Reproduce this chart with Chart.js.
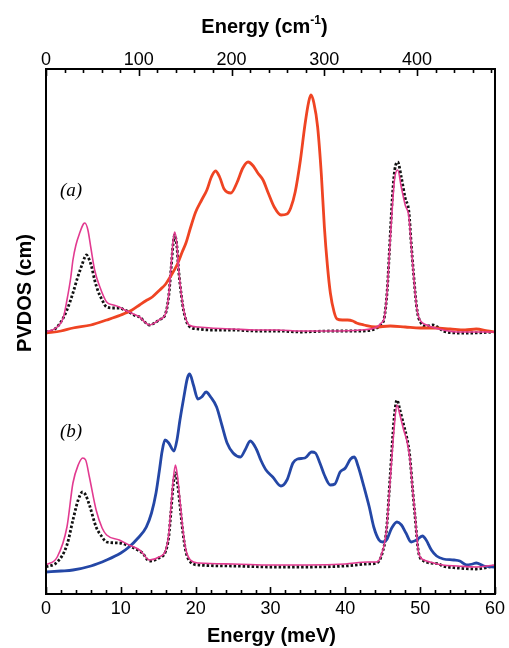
<!DOCTYPE html>
<html>
<head>
<meta charset="utf-8">
<script src="https://cdn.jsdelivr.net/npm/chart.js@4"></script>
<style>
  html, body { margin: 0; padding: 0; background: #fff; }
  #wrap { width: 509px; height: 648px; }
</style>
</head>
<body>
<div id="wrap"><canvas id="c" width="509" height="648"></canvas></div>
<script>
// Energy conversion for the upper axis
const MEV_TO_CM = 8.0655;

// Vertical offsets of the two stacked spectra
const OFFSET_A = 52;
const OFFSET_B = 4;

// ---- (a) broad total PVDOS (red) ----
const aBroadE = [0, 2, 3.6, 6, 8.1, 10, 11.5, 12.5, 13.3, 14.2, 15.2, 16, 16.6, 17.5, 18.2, 18.7, 19.3, 20, 20.8, 21.5, 22.1, 22.65, 23.2, 23.8, 24.7, 25.5, 26.3, 27, 27.7, 28.3, 29, 29.7, 30.5, 31.4, 32.2, 32.7, 33.3, 34, 34.6, 35.1, 35.4, 35.8, 36.3, 36.8, 37.2, 37.6, 38, 38.5, 38.9, 39.6, 40.3, 41, 41.5, 42.5, 44, 46, 48, 50, 52, 54, 56, 57.5, 59, 60];
const aBroadY = [0.2, 0.6, 1.2, 1.8, 2.8, 3.8, 4.8, 5.8, 6.6, 7.4, 8.8, 10.0, 11.4, 13.8, 16.4, 18.2, 21.2, 24.4, 26.8, 28.8, 31.4, 32.6, 31.4, 29.0, 28.2, 30.2, 33.2, 34.4, 33.6, 32.2, 30.8, 28.2, 25.4, 23.8, 24.0, 25.2, 28.4, 34.8, 41.8, 46.4, 47.8, 46.2, 41.4, 31.8, 21.4, 13.8, 8.2, 4.4, 3.0, 2.8, 2.8, 2.6, 2.2, 1.8, 1.4, 1.6, 1.4, 1.2, 1.2, 1.0, 0.8, 1.0, 0.6, 0.4];

// ---- (a) partial PVDOS (magenta) ----
const aPeakE = [0, 1.5, 2.3, 2.8, 3.3, 3.6, 4.0, 4.5, 5.0, 5.2, 5.6, 6.0, 6.5, 7.2, 8.1, 9.0, 9.8, 10.5, 11.1, 12.0, 12.5, 13.2, 13.8, 14.5, 15.1, 16.0, 16.4, 16.7, 17.0, 17.2, 17.5, 17.7, 18.1, 18.4, 19.1, 20.4, 22, 25, 28, 31, 34, 38, 42, 44.2, 44.8, 45.2, 45.6, 46.0, 46.3, 46.6, 47.0, 47.5, 48.0, 48.5, 48.8, 49.1, 49.5, 49.8, 50.9, 52, 53.1, 55.2, 57, 60];
const aPeakY = [0.4, 1.4, 3.2, 6.8, 11.2, 14.8, 17.8, 20.2, 22.0, 22.2, 20.8, 17.2, 12.8, 9.4, 6.4, 5.8, 5.4, 4.8, 4.4, 3.8, 3.4, 2.4, 1.8, 2.2, 2.8, 4.2, 7.8, 13.4, 18.8, 20.4, 17.8, 13.4, 7.8, 4.8, 1.8, 1.4, 1.2, 1.0, 0.8, 0.8, 0.6, 0.6, 0.8, 1.4, 2.2, 3.2, 8.8, 18.8, 25.8, 31.2, 32.8, 29.2, 25.8, 23.4, 17.8, 12.2, 5.8, 3.4, 1.8, 1.2, 0.8, 0.4, 0.4, 0.4];

// ---- (a) measured PVDOS (black dots) ----
const aDotE = [0, 1.0, 1.9, 2.8, 3.6, 4.2, 4.8, 5.2, 5.4, 5.8, 6.1, 6.5, 6.9, 7.5, 8.1, 9.0, 9.8, 10.5, 11.1, 12.0, 12.5, 13.2, 13.8, 14.5, 15.1, 16.0, 16.4, 16.7, 17.0, 17.2, 17.5, 17.7, 18.1, 18.4, 19.1, 20.4, 22, 25, 28, 31, 34, 38, 42, 44.2, 44.8, 45.2, 45.6, 46.0, 46.3, 46.6, 47.0, 47.5, 48.0, 48.5, 48.8, 49.1, 49.5, 49.8, 50.9, 51.7, 52.5, 53.1, 55.2, 57, 59.7];
const aDotY = [0.4, 0.8, 2.2, 4.8, 8.2, 11.2, 13.8, 15.4, 15.8, 14.8, 13.4, 10.8, 8.8, 6.8, 5.4, 5.2, 5.2, 4.8, 4.4, 3.6, 3.4, 2.4, 1.8, 2.2, 2.8, 4.2, 7.6, 12.8, 18.2, 19.8, 17.4, 13.2, 7.6, 4.6, 1.6, 1.0, 0.8, 0.8, 0.6, 0.6, 0.4, 0.6, 0.6, 1.2, 2.0, 3.2, 8.8, 19.8, 27.8, 32.8, 34.4, 31.2, 27.2, 24.4, 18.2, 12.4, 5.8, 3.2, 1.6, 1.8, 1.2, 0.6, 0.2, 0.2, 0.4];

// ---- (b) broad total PVDOS (blue) ----
const bBroadE = [0, 2, 3.6, 6, 8.1, 10, 11.1, 12.3, 13.4, 14.1, 14.7, 15.2, 15.5, 15.9, 16.4, 17.1, 17.5, 17.9, 18.4, 18.9, 19.2, 19.7, 20.3, 20.8, 21.4, 22.0, 22.8, 23.5, 24.2, 25.0, 26.0, 26.6, 27.3, 28.1, 28.7, 29.4, 30.3, 31.4, 32.2, 33.0, 33.6, 34.6, 35.5, 36.0, 36.6, 37.2, 38.0, 38.6, 39.3, 40.0, 40.7, 41.2, 41.7, 42.5, 43.2, 43.8, 44.5, 45.0, 45.5, 46.2, 46.9, 47.5, 48.1, 48.8, 49.5, 50.3, 50.8, 51.5, 52.2, 53.1, 54.5, 55.3, 56.2, 57.0, 57.5, 58.5, 60];
const bBroadY = [0.4, 0.6, 0.8, 1.6, 2.8, 4.2, 5.4, 7.2, 9.4, 12.2, 16.2, 21.2, 24.4, 26.8, 26.2, 24.6, 26.8, 30.8, 35.2, 39.2, 40.0, 37.8, 35.0, 35.4, 36.4, 35.4, 33.4, 29.8, 26.2, 24.2, 23.4, 24.8, 26.6, 25.0, 22.8, 20.8, 19.4, 17.6, 18.8, 22.2, 23.0, 23.2, 24.4, 24.2, 22.2, 19.8, 17.8, 18.0, 20.4, 21.2, 23.0, 23.4, 21.6, 17.4, 13.4, 9.4, 6.8, 6.4, 6.8, 9.2, 10.4, 9.8, 8.2, 6.4, 6.8, 7.6, 6.8, 4.8, 3.6, 3.0, 2.8, 2.6, 1.8, 2.0, 2.2, 1.6, 1.4];

// ---- (b) partial PVDOS (magenta) ----
const bPeakE = [0, 1.5, 2.8, 3.6, 4.3, 4.9, 5.3, 5.8, 6.7, 7.5, 8.1, 9.8, 11.1, 12.5, 12.9, 13.8, 15.1, 16.0, 16.4, 16.7, 17.0, 17.3, 17.6, 17.9, 18.3, 18.7, 19.3, 20.4, 25, 30, 35, 40, 43, 44.2, 44.9, 45.5, 46.0, 46.5, 46.9, 47.3, 47.8, 48.2, 48.6, 49.0, 49.3, 49.8, 50.5, 51.3, 53, 55, 57.5, 60];
const bPeakY = [1.8, 3.4, 9.4, 18.2, 21.8, 23.2, 22.8, 19.4, 12.8, 9.2, 7.8, 6.8, 5.8, 4.8, 4.2, 2.8, 3.4, 4.8, 7.8, 13.4, 18.8, 21.8, 19.2, 14.8, 8.8, 4.8, 2.8, 2.2, 2.0, 1.8, 1.8, 2.0, 2.4, 2.4, 4.2, 8.8, 18.8, 28.8, 33.8, 31.8, 28.8, 26.8, 23.4, 16.8, 12.2, 4.2, 2.8, 2.4, 1.8, 1.6, 1.4, 1.8];

// ---- (b) measured PVDOS (black dots) ----
const bDotE = [0, 1.5, 2.8, 3.6, 4.3, 4.9, 5.3, 5.8, 6.7, 7.5, 8.1, 9.8, 11.1, 12.5, 12.9, 13.8, 15.1, 16.0, 16.4, 16.7, 17.0, 17.3, 17.6, 17.9, 18.3, 18.7, 19.3, 20.4, 25, 30, 35, 40, 43, 44.2, 44.9, 45.5, 46.0, 46.5, 46.9, 47.3, 47.8, 48.2, 48.6, 49.0, 49.3, 49.8, 50.5, 51.3, 52.5, 53, 55, 57.5, 59.8];
const bDotY = [1.4, 2.4, 5.8, 10.8, 14.8, 16.4, 15.8, 13.8, 9.4, 7.4, 6.4, 6.2, 5.6, 4.6, 4.2, 2.6, 3.2, 4.6, 7.4, 12.4, 17.8, 20.2, 17.8, 13.8, 8.2, 4.4, 2.4, 1.8, 1.6, 1.4, 1.4, 1.6, 2.0, 2.2, 4.0, 8.8, 19.8, 30.8, 34.8, 32.8, 29.8, 27.4, 23.8, 16.8, 11.8, 4.2, 2.6, 2.2, 2.0, 1.6, 1.2, 1.0, 1.6];

// Tick values
const meVTicks = [0, 10, 20, 30, 40, 50, 60];
const cmTicks = [0, 100, 200, 300, 400];

const FONT = "'Liberation Sans', Arial, Helvetica, sans-serif";

function series(E, Y, offset) {
  return E.map((e, i) => ({ x: e, y: Y[i] + offset }));
}

function line(data, color, width, order, dash) {
  return {
    data: data,
    borderColor: color,
    borderWidth: width,
    borderDash: dash || [],
    pointRadius: 0,
    fill: false,
    cubicInterpolationMode: 'monotone',
    order: order,
    xAxisID: 'x',
    yAxisID: 'y'
  };
}

const datasets = [
  line(series(aDotE, aDotY, OFFSET_A), '#111111', 2.8, 3, [2.5, 2]),
  line(series(aBroadE, aBroadY, OFFSET_A), '#ef4423', 2.8, 2),
  line(series(aPeakE, aPeakY, OFFSET_A), '#e23a90', 1.6, 1),
  line(series(bDotE, bDotY, OFFSET_B), '#111111', 2.8, 3, [2.5, 2]),
  line(series(bBroadE, bBroadY, OFFSET_B), '#2447a6', 2.8, 2),
  line(series(bPeakE, bPeakY, OFFSET_B), '#e23a90', 1.6, 1)
];

// Frame, inward tick marks, axis titles and panel labels
const decor = {
  id: 'decor',
  afterDraw(chart) {
    const { ctx, chartArea: a, scales } = chart;
    const xs = scales.x, xt = scales.x2;
    ctx.save();
    ctx.strokeStyle = '#000';
    ctx.lineWidth = 2;
    ctx.strokeRect(a.left, a.top, a.right - a.left, a.bottom - a.top);

    ctx.lineWidth = 1.6;
    ctx.beginPath();
    for (let v = 0; v <= 60; v += 2) {
      const px = Math.round(xs.getPixelForValue(v)) + 0.5;
      const len = v % 10 === 0 ? 7 : 4;
      ctx.moveTo(px, a.bottom);
      ctx.lineTo(px, a.bottom - len);
    }
    for (let v = 0; v <= 60 * MEV_TO_CM; v += 20) {
      const px = Math.round(xt.getPixelForValue(v)) + 0.5;
      const len = v % 100 === 0 ? 7 : 4;
      ctx.moveTo(px, a.top);
      ctx.lineTo(px, a.top + len);
    }
    ctx.stroke();

    ctx.fillStyle = '#000';
    ctx.textAlign = 'center';
    ctx.textBaseline = 'alphabetic';
    const cx = (a.left + a.right) / 2;

    // bottom title
    ctx.font = 'bold 20px ' + FONT;
    ctx.fillText('Energy (meV)', cx + 1, 642);

    // top title with superscript
    const p1 = 'Energy (cm', sup = '-1', p3 = ')';
    ctx.font = 'bold 20px ' + FONT;
    const w1 = ctx.measureText(p1).width, w3 = ctx.measureText(p3).width;
    ctx.font = 'bold 12px ' + FONT;
    const w2 = ctx.measureText(sup).width;
    let sx = cx - 6 - (w1 + w2 + w3) / 2;
    ctx.textAlign = 'left';
    ctx.font = 'bold 20px ' + FONT;
    ctx.fillText(p1, sx, 33);
    ctx.font = 'bold 12px ' + FONT;
    ctx.fillText(sup, sx + w1, 24);
    ctx.font = 'bold 20px ' + FONT;
    ctx.fillText(p3, sx + w1 + w2, 33);

    // y title
    ctx.save();
    ctx.translate(31, 293);
    ctx.rotate(-Math.PI / 2);
    ctx.textAlign = 'center';
    ctx.font = 'bold 20px ' + FONT;
    ctx.fillText('PVDOS (cm)', 0, 0);
    ctx.restore();

    // panel labels
    ctx.textAlign = 'center';
    ctx.font = 'italic 19px "Liberation Serif", "Times New Roman", serif';
    ctx.fillText('(a)', 71, 196);
    ctx.fillText('(b)', 71, 437);
    ctx.restore();
  }
};

new Chart(document.getElementById('c'), {
  type: 'line',
  data: { datasets: datasets },
  plugins: [decor],
  options: {
    responsive: false,
    animation: false,
    events: [],
    layout: { padding: { left: 0, right: 10, top: 0, bottom: 0 } },
    plugins: { legend: { display: false }, tooltip: { enabled: false } },
    scales: {
      x: {
        type: 'linear', position: 'bottom', min: 0, max: 60,
        afterBuildTicks: s => { s.ticks = meVTicks.map(v => ({ value: v })); },
        ticks: { font: { family: FONT, size: 18 }, color: '#000', padding: 4, maxRotation: 0, autoSkip: false },
        grid: { drawOnChartArea: false, drawTicks: false },
        border: { display: false },
        afterFit: s => { s.height = 54; }
      },
      x2: {
        type: 'linear', position: 'top', min: 0, max: 60 * MEV_TO_CM,
        afterBuildTicks: s => { s.ticks = cmTicks.map(v => ({ value: v })); },
        ticks: { font: { family: FONT, size: 18 }, color: '#000', padding: -2, maxRotation: 0, autoSkip: false },
        grid: { drawOnChartArea: false, drawTicks: false },
        border: { display: false },
        afterFit: s => { s.height = 69; }
      },
      y: {
        type: 'linear', position: 'left', min: 0, max: 105,
        ticks: { display: false },
        grid: { display: false, drawTicks: false },
        border: { display: false },
        afterFit: s => { s.width = 46; }
      }
    }
  }
});
</script>
</body>
</html>
